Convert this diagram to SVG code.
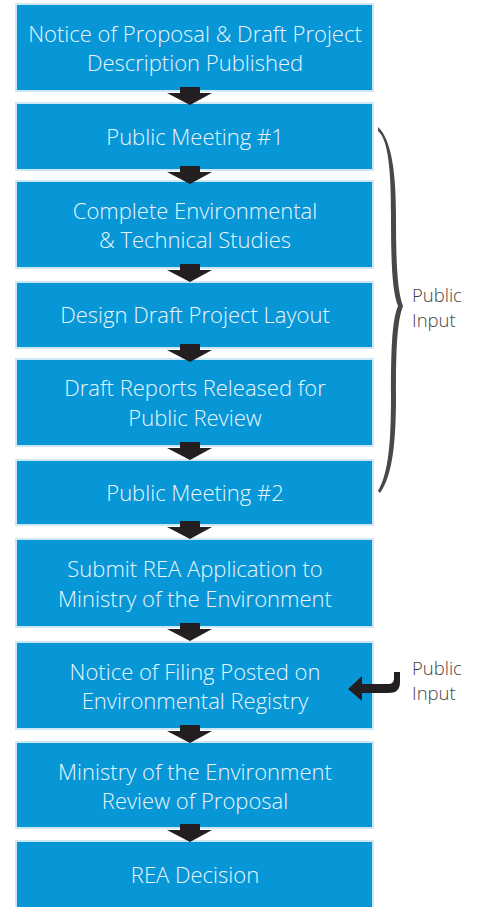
<svg xmlns="http://www.w3.org/2000/svg" width="480" height="907" viewBox="0 0 480 907">
<style>
.box{fill:#0797d7;stroke:#cfe6f5;stroke-width:2}
.t{font-family:"Open Sans",Lato,"Liberation Sans",sans-serif;font-weight:300;font-size:22px;fill:#eaf5fc;text-anchor:middle}
.side{font-family:"Open Sans",Lato,"Liberation Sans",sans-serif;font-weight:300;font-size:18.5px;fill:#444446}
.arr{fill:#231f20}
</style>
<defs>
<path id="dn" d="M180,-4 H200 V2 H212 L190,14 L167,2 H180 Z"/>
</defs>
<rect width="480" height="907" fill="#ffffff"/>
<g id="n1"><rect class="box" x="16" y="4" width="357" height="87"/><text class="t" x="195" y="42">Notice of Proposal &amp; Draft Project</text><text class="t" x="195" y="71">Description Published</text></g>
<g id="n2"><rect class="box" x="16" y="103" width="357" height="67"/><text class="t" x="195" y="145">Public Meeting #1</text></g>
<g id="n3"><rect class="box" x="16" y="181" width="357" height="87"/><text class="t" x="195" y="219">Complete Environmental</text><text class="t" x="195" y="248">&amp; Technical Studies</text></g>
<g id="n4"><rect class="box" x="16" y="282" width="357" height="66"/><text class="t" x="195" y="323">Design Draft Project Layout</text></g>
<g id="n5"><rect class="box" x="16" y="359" width="357" height="87"/><text class="t" x="195" y="396">Draft Reports Released for</text><text class="t" x="195" y="426">Public Review</text></g>
<g id="n6"><rect class="box" x="16" y="460" width="357" height="65"/><text class="t" x="195" y="501">Public Meeting #2</text></g>
<g id="n7"><rect class="box" x="16" y="539" width="357" height="88"/><text class="t" x="195" y="577">Submit REA Application to</text><text class="t" x="195" y="607">Ministry of the Environment</text></g>
<g id="n8"><rect class="box" x="16" y="642" width="357" height="87"/><text class="t" x="195" y="680">Notice of Filing Posted on</text><text class="t" x="195" y="709">Environmental Registry</text></g>
<g id="n9"><rect class="box" x="16" y="742" width="357" height="86"/><text class="t" x="195" y="780">Ministry of the Environment</text><text class="t" x="195" y="809">Review of Proposal</text></g>
<g id="n10"><rect class="box" x="16" y="841" width="357" height="70"/><text class="t" x="195" y="883">REA Decision</text></g>
<g id="connectors">
<use href="#dn" class="arr" transform="translate(0,91)"/>
<use href="#dn" class="arr" transform="translate(0,170)"/>
<use href="#dn" class="arr" transform="translate(0,268)"/>
<use href="#dn" class="arr" transform="translate(0,348)"/>
<use href="#dn" class="arr" transform="translate(0,446)"/>
<use href="#dn" class="arr" transform="translate(0,525)"/>
<use href="#dn" class="arr" transform="translate(0,627)"/>
<use href="#dn" class="arr" transform="translate(0,729)"/>
<use href="#dn" class="arr" transform="translate(0,828)"/>
<path fill="#48484b" d="M378,127 C392,140 396,175 396,215 C396,260 397,290 403,306 C397,322 396,350 396,395 C396,440 393,475 380,493 L378,491 C389,472 391,440 391,395 C391,350 392,320 398,306 C392,292 391,260 391,215 C391,175 389,140 378,131 Z"/>
<path class="arr" d="M400,672 V682 C400,690 396,693 388,693 H362 V701 L348,689 L362,676 V684 H388 C392,684 394,682 394,678 V672 Z"/>
</g>
<g id="labels">
<text class="side" x="412" y="302">Public</text><text class="side" x="412" y="327">Input</text>
<text class="side" x="412" y="675">Public</text><text class="side" x="412" y="700">Input</text>
</g>
</svg>
